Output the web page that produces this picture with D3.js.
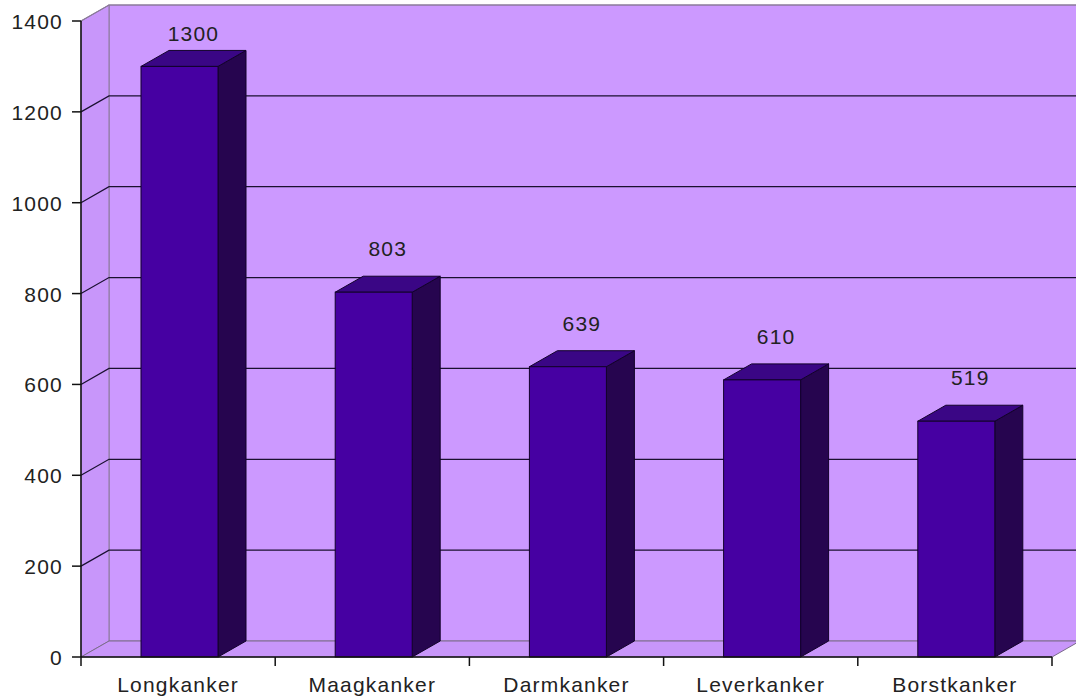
<!DOCTYPE html>
<html>
<head>
<meta charset="utf-8">
<script src="https://cdn.jsdelivr.net/npm/d3@7"></script>
<style>
  body { margin: 0; background: #fff; }
  text { font-family: "Liberation Sans", Arial, sans-serif; fill: #222; letter-spacing: 1.2px; }
</style>
</head>
<body>
<div id="chart"></div>
<script>
const categories = ["Longkanker", "Maagkanker", "Darmkanker", "Leverkanker", "Borstkanker"];
const values = [1300, 803, 639, 610, 519];
const yTicks = [0, 200, 400, 600, 800, 1000, 1200, 1400];

const width = 1076, height = 699;
const plot = { left: 81, right: 1052, top: 21, bottom: 657 };
const dx = 28, dy = -16; // depth offset of the 3d box
const fontSize = 21;

const svg = d3.select("#chart").append("svg")
  .attr("width", width)
  .attr("height", height);

const x = d3.scaleBand().domain(categories).range([plot.left, plot.right]).paddingInner(0).paddingOuter(0);
const y = d3.scaleLinear().domain([0, 1400]).range([plot.bottom, plot.top]);

// back wall
svg.append("rect")
  .attr("x", plot.left + dx).attr("y", plot.top + dy)
  .attr("width", plot.right - plot.left + 4).attr("height", plot.bottom - plot.top)
  .attr("fill", "#cc99ff")
  .attr("stroke", "#8a7a99").attr("stroke-width", 1);

// left side wall
svg.append("polygon")
  .attr("points", [[plot.left, plot.top], [plot.left + dx, plot.top + dy], [plot.left + dx, plot.bottom + dy], [plot.left, plot.bottom]].join(" "))
  .attr("fill", "#c896fa")
  .attr("stroke", "#8a7a99").attr("stroke-width", 1);

// floor
svg.append("polygon")
  .attr("points", [[plot.left, plot.bottom], [plot.left + dx, plot.bottom + dy], [plot.right + dx, plot.bottom + dy], [plot.right, plot.bottom]].join(" "))
  .attr("fill", "#c896fa")
  .attr("stroke", "#7a6a8a").attr("stroke-width", 1);

// gridlines (back wall + side wall)
const grid = svg.append("g");
yTicks.filter(t => t > 0).forEach(t => {
  grid.append("path")
    .attr("d", `M${plot.left},${y(t)} L${plot.left + dx},${y(t) + dy} L${width},${y(t) + dy}`)
    .attr("fill", "none")
    .attr("stroke", t === 1400 ? "#8a7a99" : "#1a1030")
    .attr("stroke-width", 1.2);
});

// bars
const barW = 77, barOff = 60;
const bars = svg.append("g").selectAll("g")
  .data(categories.map((c, i) => ({ name: c, value: values[i] })))
  .join("g");

bars.append("polygon") // side
  .attr("points", d => {
    const x1 = x(d.name) + barOff + barW;
    return [[x1, y(d.value)], [x1 + dx, y(d.value) + dy], [x1 + dx, plot.bottom + dy], [x1, plot.bottom]].join(" ");
  })
  .attr("fill", "#26054f").attr("stroke", "#12022a").attr("stroke-width", 1);

bars.append("polygon") // top
  .attr("points", d => {
    const x0 = x(d.name) + barOff, x1 = x0 + barW, yv = y(d.value);
    return [[x0, yv], [x0 + dx, yv + dy], [x1 + dx, yv + dy], [x1, yv]].join(" ");
  })
  .attr("fill", "#3a0685").attr("stroke", "#12022a").attr("stroke-width", 1);

bars.append("rect") // front
  .attr("x", d => x(d.name) + barOff)
  .attr("y", d => y(d.value))
  .attr("width", barW)
  .attr("height", d => plot.bottom - y(d.value))
  .attr("fill", "#4600a2").attr("stroke", "#12022a").attr("stroke-width", 1);

bars.append("text")
  .attr("x", d => x(d.name) + barOff + barW / 2 + dx / 2)
  .attr("y", d => Math.max(y(d.value) - 36, 41))
  .attr("text-anchor", "middle")
  .attr("font-size", fontSize)
  .text(d => d.value);

// y axis
const yAxis = svg.append("g");
yAxis.append("line")
  .attr("x1", plot.left).attr("x2", plot.left).attr("y1", plot.top).attr("y2", plot.bottom)
  .attr("stroke", "#111").attr("stroke-width", 1.5);
yTicks.forEach(t => {
  yAxis.append("line")
    .attr("x1", plot.left - 9).attr("x2", plot.left).attr("y1", y(t)).attr("y2", y(t))
    .attr("stroke", "#111").attr("stroke-width", 1.5);
  yAxis.append("text")
    .attr("x", plot.left - 18).attr("y", y(t) + 8)
    .attr("text-anchor", "end")
    .attr("font-size", fontSize)
    .text(t);
});

// x axis
const xAxis = svg.append("g");
xAxis.append("line")
  .attr("x1", plot.left).attr("x2", plot.right).attr("y1", plot.bottom).attr("y2", plot.bottom)
  .attr("stroke", "#111").attr("stroke-width", 1.5);
categories.concat([null]).forEach(c => {
  const xx = c ? x(c) : plot.right;
  xAxis.append("line")
    .attr("x1", xx).attr("x2", xx).attr("y1", plot.bottom).attr("y2", plot.bottom + 9)
    .attr("stroke", "#111").attr("stroke-width", 1.5);
});
xAxis.selectAll("text.cat")
  .data(categories)
  .join("text")
  .attr("class", "cat")
  .attr("x", d => x(d) + x.bandwidth() / 2)
  .attr("y", 692)
  .attr("text-anchor", "middle")
  .attr("font-size", fontSize)
  .text(d => d);
</script>
</body>
</html>
